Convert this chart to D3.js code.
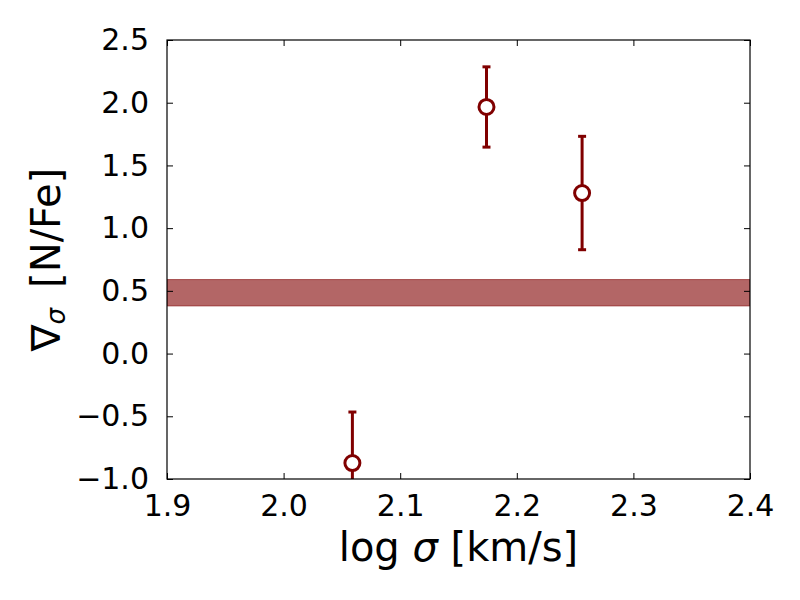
<!DOCTYPE html>
<html>
<head>
<meta charset="utf-8">
<script src="https://cdn.jsdelivr.net/npm/d3@7"></script>
<style>
  body { margin: 0; background: #fff; }
  text { font-family: "DejaVu Sans", sans-serif; }
</style>
</head>
<body>
<div id="chart"></div>
<script>
// data
var logSigma = [2.059, 2.174, 2.256];
var gradNFe  = [-0.873, 1.966, 1.280];
var errNFe   = [0.407, 0.320, 0.452];
var band     = [0.38, 0.59];
var xTicks   = [1.9, 2.0, 2.1, 2.2, 2.3, 2.4];
var yTicks   = [-1.0, -0.5, 0.0, 0.5, 1.0, 1.5, 2.0, 2.5];

var margin = {top: 40, right: 50, bottom: 121, left: 167},
    width = 800 - margin.left - margin.right,
    height = 600 - margin.top - margin.bottom;

var col = "#800000";

var svg = d3.select("#chart")
  .append("svg")
    .attr("width", 800)
    .attr("height", 600)
  .append("g")
    .attr("transform", "translate(" + margin.left + "," + margin.top + ")");

var x = d3.scaleLinear().domain([1.9, 2.4]).range([0, width]);
var y = d3.scaleLinear().domain([-1.0, 2.5]).range([height, 0]);

var fmt = function(d) { return d3.format(".1f")(d).replace("-", "\u2212"); };

svg.append("clipPath").attr("id", "clip")
  .append("rect").attr("width", width).attr("height", height);

var plot = svg.append("g").attr("clip-path", "url(#clip)");

// shaded band
plot.append("rect")
    .attr("x", 0)
    .attr("width", width)
    .attr("y", y(band[1]))
    .attr("height", y(band[0]) - y(band[1]))
    .attr("fill", col)
    .attr("fill-opacity", 0.6)
    .attr("stroke", col)
    .attr("stroke-opacity", 0.6)
    .attr("stroke-width", 1);

var pts = logSigma.map(function(d, i) { return {x: d, y: gradNFe[i], e: errNFe[i]}; });

// error bars
plot.selectAll(".err").data(pts).enter().append("line")
    .attr("x1", function(d) { return x(d.x); })
    .attr("x2", function(d) { return x(d.x); })
    .attr("y1", function(d) { return y(d.y - d.e); })
    .attr("y2", function(d) { return y(d.y + d.e); })
    .attr("stroke", col).attr("stroke-width", 3);

[-1, 1].forEach(function(s) {
  plot.selectAll(".cap" + s).data(pts).enter().append("line")
      .attr("x1", function(d) { return x(d.x) - 4; })
      .attr("x2", function(d) { return x(d.x) + 4; })
      .attr("y1", function(d) { return y(d.y + s * d.e); })
      .attr("y2", function(d) { return y(d.y + s * d.e); })
      .attr("stroke", col).attr("stroke-width", 3);
});

plot.selectAll(".pt").data(pts).enter().append("circle")
    .attr("cx", function(d) { return x(d.x); })
    .attr("cy", function(d) { return y(d.y); })
    .attr("r", 7.5)
    .attr("fill", "#fff")
    .attr("stroke", col)
    .attr("stroke-width", 3);

// axes, ticks inward on all sides
function styleAxis(g) {
  g.select(".domain").remove();
  g.selectAll(".tick line").attr("stroke", "#000");
  g.selectAll(".tick text").attr("font-size", 30).attr("fill", "#000");
}

svg.append("g")
    .attr("transform", "translate(0," + height + ")")
    .call(d3.axisBottom(x).tickValues(xTicks).tickFormat(fmt).tickSizeInner(-6).tickSizeOuter(0).tickPadding(16))
    .call(styleAxis);

svg.append("g")
    .call(d3.axisTop(x).tickValues(xTicks).tickFormat("").tickSizeInner(-6).tickSizeOuter(0))
    .call(styleAxis);

svg.append("g")
    .call(d3.axisLeft(y).tickValues(yTicks).tickFormat(fmt).tickSizeInner(-6).tickSizeOuter(0).tickPadding(18))
    .call(styleAxis);

svg.append("g")
    .attr("transform", "translate(" + width + ",0)")
    .call(d3.axisRight(y).tickValues(yTicks).tickFormat("").tickSizeInner(-6).tickSizeOuter(0))
    .call(styleAxis);

svg.append("rect")
    .attr("width", width).attr("height", height)
    .attr("fill", "none").attr("stroke", "#000").attr("stroke-width", 1.2);

// axis labels
var xl = svg.append("text")
    .attr("x", width / 2)
    .attr("y", height + 82)
    .attr("text-anchor", "middle")
    .attr("font-size", 40);
xl.append("tspan").text("log ");
xl.append("tspan").attr("font-style", "italic").text("\u03c3");
xl.append("tspan").text(" [km/s]");

var yl = svg.append("text")
    .attr("transform", "translate(-107," + (height / 2) + ") rotate(-90)")
    .attr("text-anchor", "middle")
    .attr("font-size", 40);
yl.append("tspan").text("\u2207");
yl.append("tspan").attr("font-style", "italic").attr("font-size", 26).attr("dy", 5).text("\u03c3");
yl.append("tspan").attr("dy", -5).text("\u2002[N/Fe]");
</script>
</body>
</html>
